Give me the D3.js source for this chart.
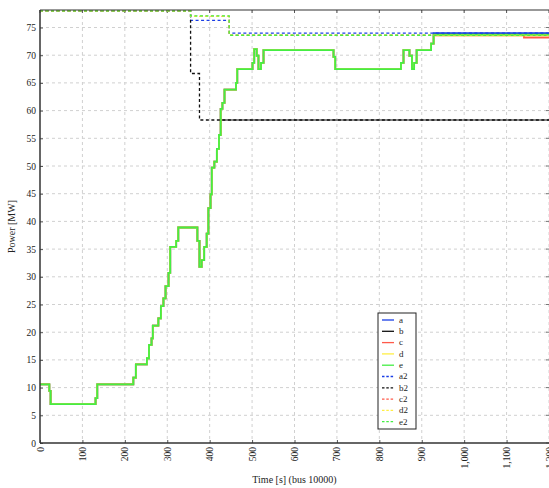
<!DOCTYPE html>
<html><head><meta charset="utf-8">
<script src="https://cdn.jsdelivr.net/npm/d3@7/dist/d3.min.js"></script>
<style>body{margin:0;background:#fff}svg{display:block}text{font-family:"Liberation Serif","DejaVu Serif",serif;fill:#222}</style>
</head><body><svg id="c" width="549" height="488"></svg>
<script>
// ---- data (time [s], power [MW]) ----
const riseT = [0,22,25,131,135,220,226,252,257,263,266,279,285,291,296,303,307,321,326,371,376,381,387,393,397,402,405,411,417,422,426,430,435,462,465,501,505,511,515,521,527,692,696,851,857,871,877,882,888,922,928,1200];
const eV = [10.6,9.4,7.0,8.1,10.6,11.8,14.2,15.3,17.7,18.9,21.2,22.5,24.7,26.1,28.3,30.7,35.4,36.5,38.9,36.5,31.8,33.0,35.4,37.8,42.4,44.9,49.7,50.8,53.1,55.6,60.3,61.4,63.8,65.0,67.5,68.6,71.1,69.9,67.5,68.6,70.9,69.7,67.5,68.6,70.9,69.9,67.5,68.6,70.9,72.1,73.7,73.7];
const aV = [10.6,9.4,7.0,8.1,10.6,11.8,14.2,15.3,17.7,18.9,21.2,22.5,24.7,26.1,28.3,30.7,35.4,36.5,38.9,36.5,31.8,33.0,35.4,37.8,42.4,44.9,49.7,50.8,53.1,55.6,60.3,61.4,63.8,65.0,67.5,68.6,71.1,69.9,67.5,68.6,70.9,69.7,67.5,68.6,70.9,69.9,67.5,68.6,70.9,72.1,74.0,74.0];
const dV = [10.6,9.4,7.0,8.1,10.6,11.8,14.2,15.3,17.7,18.9,21.2,22.5,24.7,26.1,28.3,30.7,35.4,36.5,38.9,36.5,31.8,33.0,35.4,37.8,42.4,44.9,49.7,50.8,53.1,55.6,60.3,61.4,63.8,65.0,67.5,68.6,71.1,69.9,67.5,68.6,70.9,69.7,67.5,68.6,70.9,69.9,67.5,68.6,70.9,72.1,73.6,73.6];
const cT = [0,22,25,131,135,220,226,252,257,263,266,279,285,291,296,303,307,321,326,371,376,381,387,393,397,402,405,411,417,422,426,430,435,462,465,501,505,511,515,521,527,692,696,851,857,871,877,882,888,922,928,1141,1200];
const cV = [10.6,9.4,7.0,8.1,10.6,11.8,14.2,15.3,17.7,18.9,21.2,22.5,24.7,26.1,28.3,30.7,35.4,36.5,38.9,36.5,31.8,33.0,35.4,37.8,42.4,44.9,49.7,50.8,53.1,55.6,60.3,61.4,63.8,65.0,67.5,68.6,71.1,69.9,67.5,68.6,70.9,69.7,67.5,68.6,70.9,69.9,67.5,68.6,70.9,72.1,73.6,73.2,73.2];
const bT = [0,22,25,131,135,220,226,252,257,263,266,279,285,291,296,303,307,321,326,371,376,381,387,393,397,402,405,411,417,422,426,1200];
const bV = [10.6,9.4,7.0,8.1,10.6,11.8,14.2,15.3,17.7,18.9,21.2,22.5,24.7,26.1,28.3,30.7,35.4,36.5,38.9,36.5,31.8,33.0,35.4,37.8,42.4,44.9,49.7,50.8,53.1,55.6,58.3,58.3];
const a2T = [0,355,446,1200], a2V = [78.0,76.3,74.0,74.0];
const b2T = [0,355,376,1200], b2V = [78.0,66.7,58.3,58.3];
const c2T = [0,355,446,1200], c2V = [78.0,77.0,73.6,73.6];
const d2T = [0,355,446,1200], d2V = [78.0,77.0,73.6,73.6];
const e2T = [0,355,446,1200], e2V = [78.0,77.1,73.6,73.6];
const xTicks = [0,100,200,300,400,500,600,700,800,900,1000,1100,1200];
const yTicks = [0,5,10,15,20,25,30,35,40,45,50,55,60,65,70,75];
const legendNames = ["a","b","c","d","e","a2","b2","c2","d2","e2"];
const colors = ["#1a3ee6","#111111","#ff5a4a","#ffee44","#44ee44"];

// ---- chart ----
const svg = d3.select("#c");
const L = 40, R = 549, T = 10, B = 443;
const x = d3.scaleLinear().domain([0,1200]).range([L,R]);
const y = d3.scaleLinear().domain([0,78.16]).range([B,T]);

// grid
const g = svg.append("g");
g.selectAll(".vg").data(xTicks.slice(1)).join("line")
  .attr("x1",d=>x(d)).attr("x2",d=>x(d)).attr("y1",T).attr("y2",B)
  .attr("stroke","#d0d0d0").attr("stroke-width",1).attr("stroke-dasharray","3,3");
g.selectAll(".hg").data(yTicks.slice(1)).join("line")
  .attr("x1",L).attr("x2",R).attr("y1",d=>y(d)).attr("y2",d=>y(d))
  .attr("stroke","#d0d0d0").attr("stroke-width",1).attr("stroke-dasharray","3,3");

// axes
const xAxis = svg.append("g").attr("transform",`translate(0,${B})`)
  .call(d3.axisBottom(x).tickValues(xTicks).tickSize(-3).tickPadding(4)
    .tickFormat(d3.format(",")));
xAxis.select(".domain").remove();
xAxis.selectAll("text").attr("transform","rotate(-90)").attr("text-anchor","end")
  .attr("x",-4).attr("y",0).attr("dy","0.32em").style("font-size","9.5px");
xAxis.selectAll("line").attr("stroke","#555");
const yAxis = svg.append("g").attr("transform",`translate(${L},0)`)
  .call(d3.axisLeft(y).tickValues(yTicks).tickSize(-3).tickPadding(5));
yAxis.select(".domain").remove();
yAxis.selectAll("text").style("font-size","9.5px").attr("x",-4);
yAxis.selectAll("line").attr("stroke","#555");
// top & right inner ticks
svg.append("g").selectAll("line").data(xTicks).join("line")
  .attr("x1",d=>x(d)).attr("x2",d=>x(d)).attr("y1",T).attr("y2",T+3).attr("stroke","#555");
svg.append("g").selectAll("line").data(yTicks).join("line")
  .attr("x1",R-3).attr("x2",R).attr("y1",d=>y(d)).attr("y2",d=>y(d)).attr("stroke","#777");

// series
const line = d3.line().x(d=>x(d[0])).y(d=>y(d[1])).curve(d3.curveStepAfter);
const zip = (t,v)=>t.map((d,i)=>[d,v[i]]);
const solid = [zip(riseT,aV), zip(bT,bV), zip(cT,cV), zip(riseT,dV), zip(riseT,eV)];
const dashed = [zip(a2T,a2V), zip(b2T,b2V), zip(c2T,c2V), zip(d2T,d2V), zip(e2T,e2V)];
svg.append("clipPath").attr("id","pc").append("rect").attr("x",L).attr("y",T-2).attr("width",R-L+2).attr("height",B-T+2);
const pg = svg.append("g").attr("clip-path","url(#pc)");
solid.forEach((s,i)=>pg.append("path").attr("d",line(s)).attr("fill","none")
  .attr("stroke",colors[i]).attr("stroke-width",i===1?1.2:1.8));
dashed.forEach((s,i)=>pg.append("path").attr("d",line(s)).attr("fill","none")
  .attr("stroke",colors[i]).attr("stroke-width",1.3).attr("stroke-dasharray","3,2.5"));

// frame
svg.append("line").attr("x1",L).attr("x2",R).attr("y1",T).attr("y2",T).attr("stroke","#333").attr("stroke-width",1.2);
svg.append("line").attr("x1",L).attr("x2",R).attr("y1",B).attr("y2",B).attr("stroke","#333").attr("stroke-width",1.5);
svg.append("line").attr("x1",L).attr("x2",L).attr("y1",T).attr("y2",B).attr("stroke","#333").attr("stroke-width",1.5);

// labels
svg.append("text").attr("x",(L+R)/2).attr("y",483).attr("text-anchor","middle").style("font-size","10px").text("Time [s] (bus 10000)");
svg.append("text").attr("transform",`translate(15,${(T+B)/2}) rotate(-90)`).attr("text-anchor","middle").style("font-size","10px").text("Power [MW]");

// legend
const lg = svg.append("g");
lg.append("rect").attr("x",378).attr("y",313).attr("width",38).attr("height",116)
  .attr("fill","#fff").attr("stroke","#222").attr("stroke-width",1);
legendNames.forEach((n,i)=>{
  const yy = 320 + i*11.3;
  lg.append("line").attr("x1",382).attr("x2",394).attr("y1",yy).attr("y2",yy)
    .attr("stroke",colors[i%5]).attr("stroke-width",1.3)
    .attr("stroke-dasharray", i>=5 ? "2.5,1.8" : null);
  lg.append("text").attr("x",399).attr("y",yy).attr("dy","0.32em").style("font-size","9px").text(n);
});
</script></body></html>
